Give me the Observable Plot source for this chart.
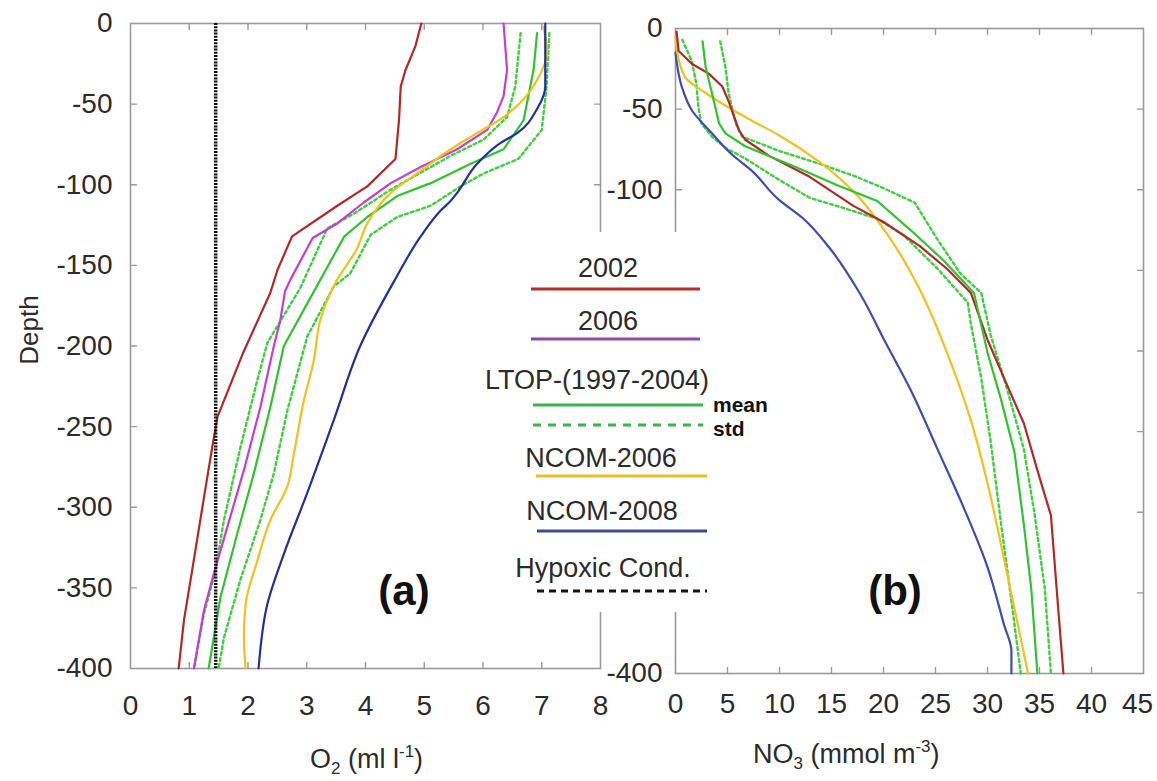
<!DOCTYPE html>
<html>
<head>
<meta charset="utf-8">
<script src="https://cdn.jsdelivr.net/npm/d3@7"></script>
<script src="https://cdn.jsdelivr.net/npm/@observablehq/plot@0.6"></script>
<style>
html, body { margin: 0; padding: 0; background: #fff; }
#wrap { position: relative; width: 1157px; height: 781px; background: #fff; overflow: hidden;
        font-family: "Liberation Sans", Arial, Helvetica, sans-serif; }
.layer { position: absolute; left: 0; top: 0; }
#mask { position: absolute; left: 470px; top: 232px; width: 275px; height: 380px; background: #fff; }
</style>
</head>
<body>
<div id="wrap">
  <div id="left" class="layer"></div>
  <div id="right" class="layer"></div>
  <div id="mask"></div>
  <svg id="anno" class="layer" width="1157" height="781"></svg>
</div>
<script>
// ---------------- data (value, depth) ----------------
const o2Ticks = [0, 1, 2, 3, 4, 5, 6, 7, 8];
const no3Ticks = [0, 5, 10, 15, 20, 25, 30, 35, 40, 45];
const depthTicks = [0, -50, -100, -150, -200, -250, -300, -350, -400];
const no3DepthLabels = [0, -50, -100, -400];   // the others are hidden behind the legend
const hypoxicO2 = 1.45;

const o2_2002 = [[4.95,0],[4.85,-14],[4.68,-29],[4.6,-39],[4.57,-60],[4.51,-84],[4.03,-101],[3.52,-113],[2.75,-132],[2.5,-153],[2.38,-167],[1.92,-204],[1.48,-244],[1.39,-263],[1.25,-294],[1.05,-339],[0.91,-370],[0.82,-400]];
const o2_2006 = [[6.35,0],[6.41,-29],[6.35,-45],[6.24,-55],[6.07,-66],[5.56,-78],[4.94,-89],[4.43,-99],[3.97,-111],[3.52,-124],[3.1,-133],[2.72,-159],[2.63,-166],[2.55,-184],[2.44,-200],[2.21,-238],[1.93,-277],[1.65,-312],[1.42,-341],[1.25,-364],[1.08,-400]];
const o2_ltopMean = [[6.92,-6],[6.86,-29],[6.75,-49],[6.69,-60],[6.35,-78],[5.79,-87],[5.11,-99],[4.54,-107],[4.03,-120],[3.64,-132],[3.2,-161],[2.61,-200],[2.38,-238],[2.1,-279],[1.82,-316],[1.53,-356],[1.33,-400]];
const o2_ltopStdLow = [[6.64,-6],[6.55,-39],[6.41,-58],[6.01,-72],[5.45,-82],[4.82,-95],[4.43,-103],[3.8,-118],[3.35,-127],[2.89,-164],[2.33,-198],[2.16,-221],[1.87,-263],[1.59,-308],[1.45,-339],[1.25,-366],[1.08,-400]];
const o2_ltopStdHigh = [[7.13,-6],[7.08,-40],[7.0,-66],[6.6,-84],[6.01,-93],[5.62,-101],[5.11,-113],[4.54,-120],[4.09,-131],[3.74,-155],[3.46,-163],[3.01,-194],[2.67,-240],[2.44,-279],[2.21,-308],[1.87,-345],[1.59,-381],[1.5,-400]];
const o2_ncom2006 = [[7.03,-2],[7.09,-18],[6.92,-35],[6.69,-47],[6.35,-58],[5.9,-68],[5.45,-78],[4.88,-93],[4.43,-105],[4.03,-124],[3.85,-140],[3.5,-160],[3.23,-184],[3.12,-209],[2.95,-234],[2.78,-267],[2.67,-287],[2.38,-308],[2.16,-333],[1.96,-360],[1.93,-381],[1.96,-400]];
const o2_ncom2008 = [[7.06,0],[7.06,-39],[6.92,-53],[6.58,-68],[6.3,-74],[5.9,-87],[5.56,-105],[5.45,-110],[5.28,-116],[4.94,-132],[4.5,-159],[3.91,-200],[3.46,-246],[3.01,-291],[2.61,-329],[2.33,-360],[2.18,-400]];

const no3_2002 = [[0.1,-2],[0.3,-14],[1.6,-22],[3.2,-28],[4.5,-36],[5.1,-45],[6.1,-63],[6.7,-69],[9.0,-79],[12.9,-92],[17.1,-110],[20.0,-120],[23.5,-135],[26.1,-149],[28.4,-164],[30.0,-193],[31.6,-217],[33.5,-245],[34.8,-274],[36.1,-302],[36.8,-360],[37.3,-400]];
const no3_ltopMean = [[2.6,-8],[2.9,-24],[3.5,-40],[4.2,-59],[4.8,-65],[6.7,-73],[11.6,-86],[15.5,-97],[19.4,-107],[22.6,-125],[25.8,-144],[28.7,-164],[30.0,-201],[31.3,-230],[32.6,-263],[33.5,-308],[34.2,-347],[34.8,-400]];
const no3_ltopStdLow = [[0.65,-7],[1.55,-20],[2.0,-34],[2.2,-49],[2.5,-59],[3.5,-67],[4.8,-74],[6.8,-81],[10.0,-94],[12.9,-105],[16.5,-112],[19.4,-118],[21.9,-128],[25.2,-149],[28.1,-170],[28.4,-183],[29.4,-217],[30.3,-256],[31.3,-307],[32.3,-355],[33.2,-400]];
const no3_ltopStdHigh = [[4.3,-8],[4.8,-24],[5.1,-40],[5.8,-59],[6.4,-67],[10.0,-76],[13.9,-84],[17.4,-92],[20.0,-99],[23.0,-108],[25.2,-131],[27.4,-152],[29.4,-164],[30.3,-190],[31.9,-224],[33.5,-261],[34.5,-300],[35.5,-347],[36.1,-400]];
const no3_ncom2006 = [[0,-5],[0.1,-12],[0.9,-30],[2.9,-40],[5.1,-49],[7.3,-57],[9.9,-66],[13.9,-83],[17.1,-101],[20.3,-127],[23.5,-162],[26.1,-201],[28.4,-243],[30.0,-282],[31.3,-320],[32.6,-360],[33.9,-400]];
const no3_ncom2008 = [[0,-15],[0.6,-36],[1.6,-51],[3.5,-65],[5.4,-78],[7.3,-88],[9.9,-106],[12.3,-118],[14.8,-136],[17.7,-164],[20.3,-196],[22.6,-224],[25.2,-261],[27.7,-297],[30.0,-334],[31.6,-370],[32.3,-386],[32.3,-400]];

const legendLabels = ["2002", "2006", "LTOP-(1997-2004)", "NCOM-2006", "NCOM-2008", "Hypoxic Cond."];

// ---------------- styles ----------------
const FONT = '"Liberation Sans", Arial, Helvetica, sans-serif';
const C = {
  red: "#b3272b", magenta: "#c63dd0", green: "#2fc42f", greenDot: "#3fcf3f",
  yellow: "#f2c11b", blue: "#22309e", blue2: "#3d4db0", frame: "#9a9a9a", text: "#2b2b2b"
};
const dotted = "3,3";
const tickShape = { draw(context, l) { context.moveTo(0, 0); context.lineTo(0, -l); } };

function ticksMarks(xInner, yInner) {
  const common = { length: 6, anchor: "start", shape: tickShape, stroke: C.frame, strokeWidth: 1.4 };
  return [
    Plot.vector(xInner, { ...common, x: d => d, frameAnchor: "bottom", rotate: 0 }),
    Plot.vector(xInner, { ...common, x: d => d, frameAnchor: "top", rotate: 180 }),
    Plot.vector(yInner, { ...common, y: d => d, frameAnchor: "left", rotate: 90 }),
    Plot.vector(yInner, { ...common, y: d => d, frameAnchor: "right", rotate: -90 })
  ];
}
function series(data, stroke, dash, width, curve) {
  return Plot.line(data, { x: d => d[0], y: d => d[1], stroke, strokeWidth: width || 2.2,
    strokeDasharray: dash || null, strokeLinejoin: "round", curve: curve || "linear" });
}
const fmt = d => String(d);

// ---------------- left panel (O2) ----------------
const left = Plot.plot({
  width: 1157, height: 781,
  marginLeft: 130, marginRight: 557, marginTop: 23, marginBottom: 113,
  x: { domain: [0, 8] },
  y: { domain: [-400, 0] },
  style: { background: "transparent", fontFamily: FONT, color: C.text, overflow: "visible" },
  marks: [
    Plot.frame({ stroke: C.frame, strokeWidth: 1.6 }),
    Plot.axisX(o2Ticks, { anchor: "bottom", tickSize: 0, tickPadding: 27, fontSize: 28, label: null, tickFormat: fmt }),
    Plot.axisY(depthTicks, { anchor: "left", tickSize: 0, tickPadding: 18, fontSize: 28, label: null, tickFormat: fmt }),
    ...ticksMarks(o2Ticks.slice(1, -1), depthTicks.slice(1, -1)),
    series(o2_ltopStdLow, C.greenDot, dotted, 2.4),
    series(o2_ltopStdHigh, C.greenDot, dotted, 2.4),
    series(o2_2002, C.red),
    series(o2_2006, C.magenta),
    series(o2_ltopMean, C.green),
    series(o2_ncom2006, C.yellow, null, 2.2, "monotone-y"),
    series(o2_ncom2008, C.blue, null, 2.2, "monotone-y"),
    Plot.ruleX([hypoxicO2], { stroke: "#111", strokeWidth: 3.5, strokeDasharray: "2,1.2" })
  ]
});
document.getElementById("left").appendChild(left);

// ---------------- right panel (NO3) ----------------
const right = Plot.plot({
  width: 1157, height: 781,
  marginLeft: 675, marginRight: 14, marginTop: 28, marginBottom: 108,
  x: { domain: [0, 45] },
  y: { domain: [-400, 0] },
  style: { background: "transparent", fontFamily: FONT, color: C.text, overflow: "visible" },
  marks: [
    Plot.frame({ stroke: C.frame, strokeWidth: 1.6 }),
    Plot.axisX(no3Ticks.slice(0, -1), { anchor: "bottom", tickSize: 0, tickPadding: 20, fontSize: 28, label: null, tickFormat: fmt }),
    Plot.axisX(no3Ticks.slice(-1), { anchor: "bottom", tickSize: 0, tickPadding: 20, fontSize: 28, label: null, tickFormat: fmt, dx: -6 }),
    Plot.axisY(no3DepthLabels, { anchor: "left", tickSize: 0, tickPadding: 13, fontSize: 28, label: null, tickFormat: fmt }),
    ...ticksMarks(no3Ticks.slice(1, -1), depthTicks.slice(1, -1)),
    series(no3_ltopStdLow, C.greenDot, dotted, 2.4),
    series(no3_ltopStdHigh, C.greenDot, dotted, 2.4),
    series(no3_ncom2008, C.blue2, null, 2.2, "monotone-y"),
    series(no3_ncom2006, C.yellow, null, 2.2, "monotone-y"),
    series(no3_2002, C.red),
    series(no3_ltopMean, C.green)
  ]
});
document.getElementById("right").appendChild(right);

// ---------------- annotations & legend ----------------
const anno = d3.select("#anno").style("font-family", FONT);
anno.append("text").attr("transform", "translate(38,330) rotate(-90)")
  .attr("text-anchor", "middle").attr("font-size", 26).attr("fill", C.text).text("Depth");
const o2t = anno.append("text").attr("x", 310).attr("y", 768).attr("font-size", 27).attr("fill", C.text);
o2t.append("tspan").text("O");
o2t.append("tspan").attr("font-size", 17).attr("dy", 6).text("2");
o2t.append("tspan").attr("dy", -6).text(" (ml l");
o2t.append("tspan").attr("font-size", 17).attr("dy", -11).text("-1");
o2t.append("tspan").attr("dy", 11).text(")");
const n3t = anno.append("text").attr("x", 753).attr("y", 763).attr("font-size", 27).attr("fill", C.text);
n3t.append("tspan").text("NO");
n3t.append("tspan").attr("font-size", 17).attr("dy", 6).text("3");
n3t.append("tspan").attr("dy", -6).text(" (mmol m");
n3t.append("tspan").attr("font-size", 17).attr("dy", -11).text("-3");
n3t.append("tspan").attr("dy", 11).text(")");
anno.append("text").attr("x", 404).attr("y", 605).attr("text-anchor", "middle")
  .attr("font-size", 42).attr("font-weight", "bold").attr("fill", "#111").text("(a)");
anno.append("text").attr("x", 895).attr("y", 605).attr("text-anchor", "middle")
  .attr("font-size", 42).attr("font-weight", "bold").attr("fill", "#111").text("(b)");

const legendText = [
  { t: legendLabels[0], x: 608, y: 277 },
  { t: legendLabels[1], x: 608, y: 330 },
  { t: legendLabels[2], x: 597, y: 389 },
  { t: legendLabels[3], x: 601, y: 467 },
  { t: legendLabels[4], x: 602, y: 520 },
  { t: legendLabels[5], x: 603, y: 577 }
];
legendText.forEach(d => anno.append("text").attr("x", d.x).attr("y", d.y).attr("text-anchor", "middle")
  .attr("font-size", 27).attr("fill", C.text).text(d.t));
const legendLines = [
  { x1: 531, x2: 700, y: 289, c: "#b5302c", dash: null },
  { x1: 531, x2: 700, y: 339, c: "#8e4aa6", dash: null },
  { x1: 533, x2: 703, y: 405, c: "#3cb44b", dash: null },
  { x1: 533, x2: 703, y: 425, c: "#3cb44b", dash: "8,7" },
  { x1: 536, x2: 707, y: 476, c: "#e6c229", dash: null },
  { x1: 537, x2: 707, y: 531, c: "#3b4a94", dash: null },
  { x1: 537, x2: 707, y: 591, c: "#111", dash: "7,5" }
];
legendLines.forEach(d => anno.append("line").attr("x1", d.x1).attr("x2", d.x2).attr("y1", d.y).attr("y2", d.y)
  .attr("stroke", d.c).attr("stroke-width", 3).attr("stroke-dasharray", d.dash));
anno.append("text").attr("x", 713).attr("y", 412).attr("font-size", 21).attr("font-weight", "bold").attr("fill", "#111").text("mean");
anno.append("text").attr("x", 713).attr("y", 436).attr("font-size", 21).attr("font-weight", "bold").attr("fill", "#111").text("std");
</script>
</body>
</html>
